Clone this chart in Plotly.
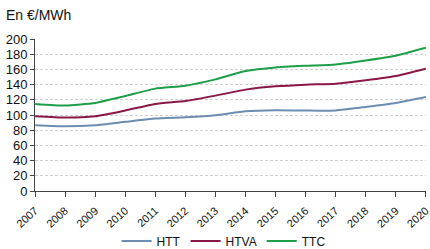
import plotly.graph_objects as go

years = list(range(2007, 2021))
htt = [86.6, 85.2, 86.6, 91.0, 95.3, 97.0, 99.7, 104.9, 106.2, 105.8, 106.0, 110.6, 115.8, 123.7]
htva = [98.4, 96.6, 98.4, 106.0, 114.5, 118.4, 125.5, 133.4, 137.7, 139.9, 141.2, 145.6, 151.2, 160.9]
ttc = [114.5, 112.4, 115.8, 125.0, 134.7, 138.6, 146.9, 157.8, 162.6, 164.8, 166.6, 171.8, 178.0, 188.4]
y_ticks = list(range(0, 201, 20))

series = [("HTT", htt, "#6b8db0"), ("HTVA", htva, "#8a1747"), ("TTC", ttc, "#1e9e48")]

fig = go.Figure()
for name, vals, col in series:
    fig.add_trace(go.Scatter(x=years, y=vals, name=name, mode="lines", cliponaxis=False,
                             line=dict(color=col, width=2, shape="spline", smoothing=0.5)))

fig.update_layout(
    width=430, height=249,
    margin=dict(l=35, r=4, t=39, b=58),
    paper_bgcolor="white", plot_bgcolor="white",
    font=dict(family="Liberation Sans, Arial, sans-serif", size=12, color="#111"),
    showlegend=True,
    legend=dict(orientation="h", xref="container", yref="container", x=0.52, xanchor="center",
                y=0.032, yanchor="middle", font=dict(size=12), itemwidth=30,
                tracegroupgap=0),
    annotations=[dict(text="En €/MWh", xref="paper", yref="paper", x=-0.08, y=1.09,
                      xanchor="left", yanchor="bottom", showarrow=False,
                      font=dict(size=14, color="#111"))],
)
fig.update_xaxes(range=[2006.995, 2020.005], tickmode="array", tickvals=years, ticktext=[str(y) for y in years],
                 tickangle=-42, showline=True, linecolor="#444", linewidth=1, ticks="outside",
                 ticklen=5, tickcolor="#444", showgrid=False, zeroline=False, automargin=False,
                 ticklabeloverflow="allow", ticklabelstandoff=3, tickfont=dict(size=11))
fig.update_yaxes(range=[0, 200], tickvals=y_ticks, showline=True, linecolor="#444", linewidth=1,
                 ticks="outside", ticklen=4, tickcolor="#444", showgrid=True, automargin=False,
                 gridcolor="#d0d0d0", griddash="3px,2px", gridwidth=1, zeroline=False,
                 tickfont=dict(size=13))

fig.write_html("out.html", config={"displayModeBar": False},
               post_script="document.body.style.margin='0';")
